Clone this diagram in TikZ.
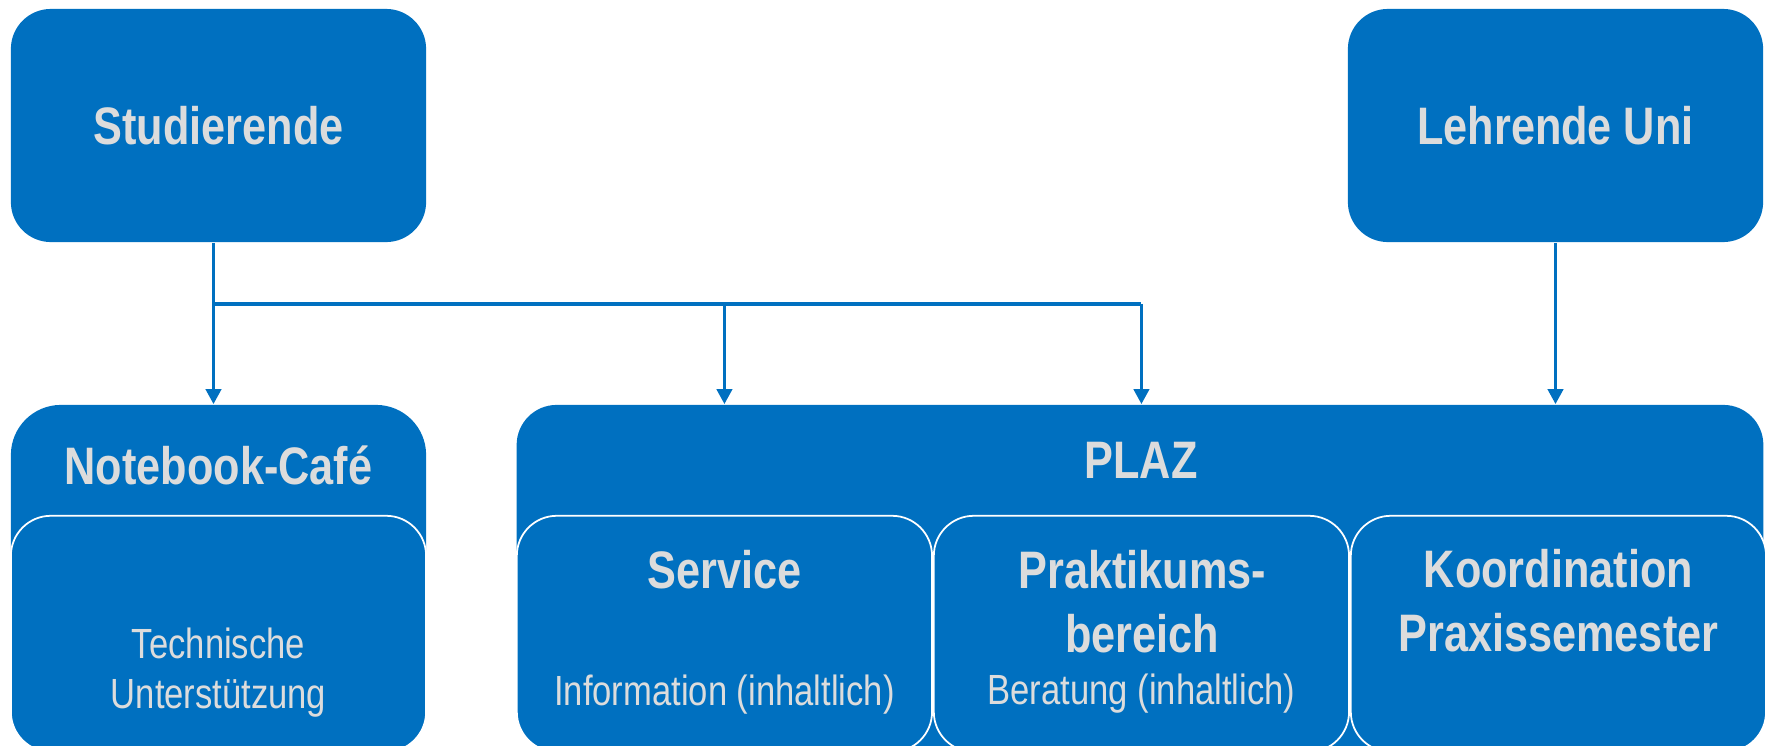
\documentclass[tikz,border=0pt]{standalone}
\usepackage{fontspec}
\setmainfont{Liberation Sans}[FakeStretch=0.82]
\usetikzlibrary{positioning, calc, arrows.meta, shapes}
\definecolor{plazblue}{HTML}{0070C0}
\definecolor{labelgray}{HTML}{DCDCDC}
\tikzset{box/.style={fill=plazblue, rounded corners=0.4cm, inner sep=0pt}}
\tikzset{subbox/.style={box, draw=white, line width=0.5pt, minimum width=4.15cm, minimum height=2.36cm}}
\tikzset{headtext/.style={text=labelgray, font=\bfseries\fontsize{15}{18.2}\selectfont, inner sep=0pt, align=center}}
\tikzset{smalltext/.style={text=labelgray, font=\fontsize{12}{14.4}\selectfont, inner sep=0pt, align=center}}
\tikzset{conn/.style={draw=plazblue, line width=1.1pt, -{Triangle[width=4.3pt, length=4.3pt]}}}

\begin{document}
\begin{tikzpicture}[x=0.01cm, y=-0.01cm]
      \useasboundingbox (0,0) rectangle (1766,745);
      \clip (0,0) rectangle (1766,745);

      % top row
      \node[box, headtext, minimum width=4.15cm, minimum height=2.33cm] (stud) at (218.5,125.5) {Studierende};
      \node[box, headtext, minimum width=4.15cm, minimum height=2.33cm] (lehr) at (1555.5,125.5) {Lehrende Uni};

      % bottom row
      \node[box, rounded corners=0.5cm, minimum width=4.15cm, minimum height=3.47cm] (cafe) at (218.5,578.5) {};
      \node[subbox, anchor=south] (cafesub) at (cafe.south) {};
      \node[box, minimum width=12.46cm, minimum height=3.47cm] (plaz) at (1140,578.5) {};
      \node[subbox, anchor=south west] (service) at (plaz.south west) {};
      \node[subbox, anchor=south west] (prakt) at (service.south east) {};
      \node[subbox, anchor=south west] (koord) at (prakt.south east) {};

      % texts (multi-line: base = last line)
      \node[headtext, anchor=base] (cafetitle) at ($(cafe.north)+(0,80)$) {Notebook-Café};
      \node[smalltext, anchor=base] (cafetext) at ($(cafesub.north)+(0,194)$) {Technische\\Unterstützung};
      \node[headtext, anchor=base] (plaztitle) at ($(plaz.north)+(1,74)$) {PLAZ};
      \node[headtext, anchor=base] (servicetitle) at ($(service.north)+(0,74)$) {Service};
      \node[smalltext, anchor=base] (servicetext) at ($(service.north)+(0,191)$) {Information (inhaltlich)};
      \node[headtext, anchor=base] (prakttitle) at ($(prakt.north)+(1,138)$) {Praktikums-\\bereich};
      \node[smalltext, anchor=base] (prakttext) at ($(prakt.north)+(0,190)$) {Beratung (inhaltlich)};
      \node[headtext, anchor=base] (koordtitle) at ($(koord.north)+(0,137)$) {Koordination\\Praxissemester};

      % connectors
      \coordinate (j0) at ($(stud.south)+(-5,61)$);
      \coordinate (j1) at (service.north |- j0);
      \coordinate (j2) at (prakt.north |- j0);
      \draw[conn] ($(stud.south)+(-5,0)$) -- ($(cafe.north)+(-5,0)$);
      \draw[conn, -] (j0) -- (j2);
      \draw[conn] (j1) -- (service.north |- plaz.north);
      \draw[conn] (j2) -- (prakt.north |- plaz.north);
      \draw[conn] (lehr.south) -- (lehr.south |- plaz.north);
    \end{tikzpicture}
\end{document}
